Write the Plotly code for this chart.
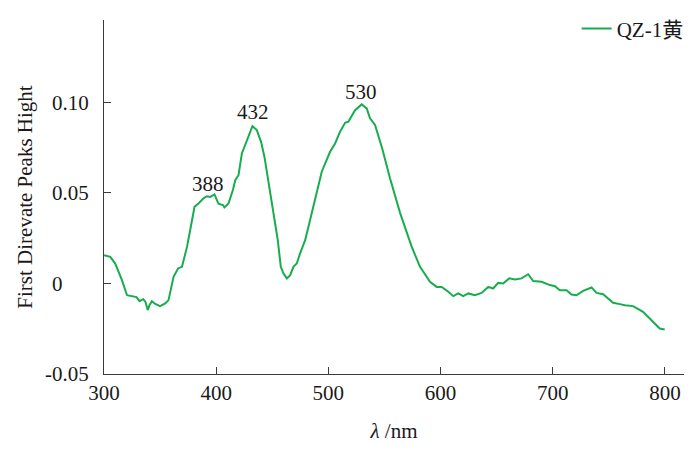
import plotly.graph_objects as go

# Wavelength (nm) and first-derivative values
wavelength = [300, 305.6, 310, 316, 320.5, 326, 329, 331.7, 335, 337, 339, 340.5, 342.7, 345.7,
              350, 354.6, 357.5, 362, 366, 369.5, 374, 376.8, 380.7, 384.2, 388.7, 391.7, 394.7,
              398.5, 400.6, 402, 406, 407.3, 411, 414.9, 417, 419.9, 422.9, 427.4, 432.3, 436.2,
              440, 443, 446.6, 451, 454.9, 457.6, 460, 463, 466, 468.8, 471.8, 474.8, 479.3,
              483.7, 488.2, 494.1, 501.5, 506, 510.4, 514.9, 517.8, 523.8, 529.7, 534.2, 537.1,
              541.6, 548, 555, 563.9, 574.3, 581.7, 590.6, 596.5, 601, 606.9, 611.3, 615.8, 620.2,
              624.7, 630.6, 636.6, 642.5, 646.9, 651.4, 655.8, 661.2, 666.3, 672.2, 678.1, 682.6,
              690, 697.5, 702, 706.3, 712.3, 716.7, 721.2, 727.1, 734.6, 739, 744.9, 753.8, 759.8,
              764.3, 771.6, 780.5, 788, 795.4, 799.8]
deriv = [0.0156, 0.0147, 0.011, 0.0018, -0.0065, -0.007, -0.0075, -0.0098, -0.0087, -0.0102,
         -0.0147, -0.012, -0.0098, -0.0113, -0.0125, -0.011, -0.0092, 0.0037, 0.0083, 0.0092,
         0.0202, 0.0294, 0.0423, 0.0442, 0.047, 0.0482, 0.0478, 0.0492, 0.046, 0.044, 0.0433,
         0.042, 0.0442, 0.0516, 0.057, 0.0598, 0.0718, 0.0792, 0.0869, 0.0847, 0.0782, 0.07,
         0.0553, 0.0387, 0.0239, 0.0092, 0.0055, 0.0028, 0.0046, 0.0092, 0.011, 0.0166, 0.0239,
         0.035, 0.046, 0.0617, 0.0727, 0.0773, 0.0838, 0.0887, 0.0893, 0.0957, 0.0989, 0.0967,
         0.0912, 0.0875, 0.0745, 0.058, 0.039, 0.0202, 0.0092, 0.0009, -0.0019, -0.0019, -0.0046,
         -0.007, -0.0055, -0.007, -0.0055, -0.0065, -0.0052, -0.0019, -0.0028, 0.0003, 0.0,
         0.0028, 0.0022, 0.0028, 0.0051, 0.0013, 0.0009, -0.0009, -0.0015, -0.0037, -0.0037,
         -0.0061, -0.0065, -0.0041, -0.0022, -0.0052, -0.0059, -0.0107, -0.0114, -0.012, -0.0125,
         -0.0157, -0.0203, -0.0249, -0.0254]

series_name = "QZ-1黄"
peak_labels = ["388", "432", "530"]
peak_label_x = [392.4, 433.2, 528.9]
peak_label_y = [0.0549, 0.0948, 0.1059]

x_ticks = [300, 400, 500, 600, 700, 800]
y_ticks = [-0.05, 0, 0.05, 0.10]
y_ticktext = ["-0.05", "0\u00a0\u00a0\u00a0\u00a0\u00a0", "0.05", "0.10"]

FONT = "'Liberation Serif', 'Times New Roman', 'Noto Sans CJK SC', serif"
GREEN = "#17ad4e"
AXIS = "#3a3a3a"
TXT = "#1a1a1a"

fig = go.Figure()
fig.add_trace(go.Scatter(x=wavelength, y=deriv, mode="lines", name=series_name,
                         line=dict(color=GREEN, width=2)))

for lab, lx, ly in zip(peak_labels, peak_label_x, peak_label_y):
    fig.add_annotation(x=lx, y=ly, text=lab, showarrow=False, yanchor="middle",
                       font=dict(family=FONT, size=21, color=TXT))

# the page body has an 8px default margin, so margins are offset by 8px
fig.update_layout(
    width=700, height=453,
    margin=dict(l=96, r=24, t=12, b=87, autoexpand=False),
    paper_bgcolor="white", plot_bgcolor="white",
    font=dict(family=FONT, size=21, color=TXT),
    showlegend=True,
    legend=dict(x=1.008, xanchor="right", y=0.975, yanchor="middle",
                bgcolor="rgba(0,0,0,0)", font=dict(family=FONT, size=21, color=TXT)),
)
fig.update_xaxes(range=[300, 817], tickvals=x_ticks, ticks="inside", ticklen=7,
                 tickcolor=AXIS, tickwidth=1.2, showline=True, linecolor=AXIS, linewidth=1.2,
                 showgrid=False, zeroline=False,
                 title=dict(text="<i>λ</i> /nm", standoff=19,
                            font=dict(family=FONT, size=21, color=TXT)))
fig.update_yaxes(range=[-0.05, 0.1455], tickvals=y_ticks, ticktext=y_ticktext,
                 ticks="inside", ticklen=7, tickcolor=AXIS, tickwidth=1.2,
                 showline=True, linecolor=AXIS, linewidth=1.2, showgrid=False, zeroline=False,
                 ticklabelstandoff=10,
                 title=dict(text="First Direvate Peaks Hight", standoff=6,
                            font=dict(family=FONT, size=21, color=TXT)))

fig.write_html("out.html")
